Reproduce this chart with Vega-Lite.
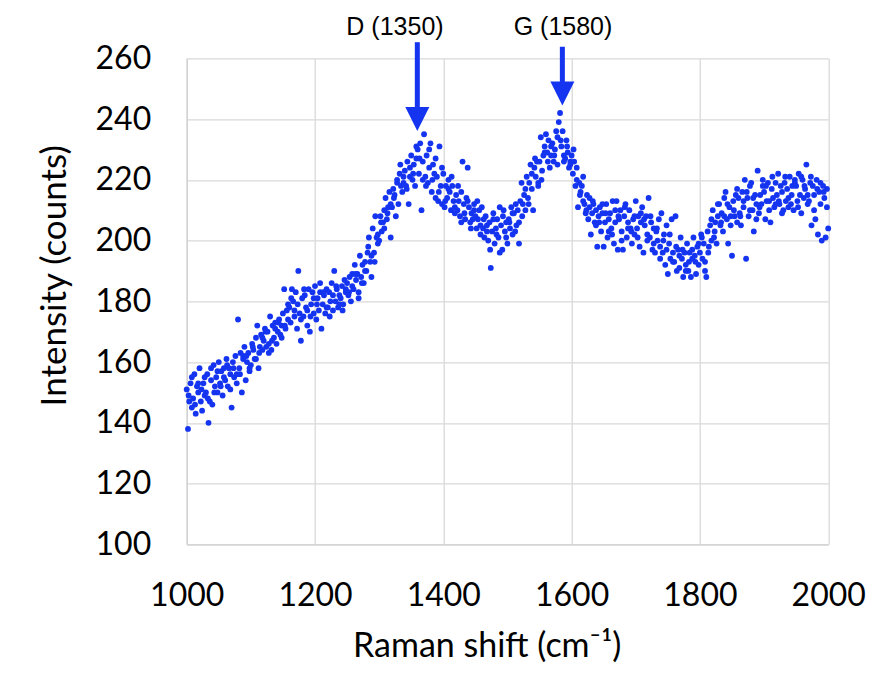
{
"$schema": "https://vega.github.io/schema/vega-lite/v6.json",
"width": 641.5,
"height": 486,
"autosize": {"type": "none"},
"padding": {"left": 186.7, "top": 58.3, "right": 61.8, "bottom": 148.7},
"background": "white",
"config": {"view": {"stroke": null}},
"datasets": {
"arrows": [
{"label": "D (1350)", "shift": 1359.5, "intensity": 265.3, "head": 240.0, "labelShift": 1324.7, "labelY": 267.7},
{"label": "G (1580)", "shift": 1585.6, "intensity": 263.8, "head": 248.4, "labelShift": 1586.6, "labelY": 267.7}
],
"spectrum": [
{"shift":1000,"intensity":151},{"shift":1002,"intensity":138},{"shift":1004,"intensity":147},{"shift":1006,"intensity":153},{"shift":1008,"intensity":145},
{"shift":1010,"intensity":148},{"shift":1012,"intensity":156},{"shift":1014,"intensity":143},{"shift":1016,"intensity":152},{"shift":1018,"intensity":150},
{"shift":1020,"intensity":158},{"shift":1022,"intensity":147},{"shift":1024,"intensity":144},{"shift":1026,"intensity":153},{"shift":1028,"intensity":149},
{"shift":1030,"intensity":150},{"shift":1032,"intensity":156},{"shift":1034,"intensity":140},{"shift":1036,"intensity":147},{"shift":1038,"intensity":154},
{"shift":1040,"intensity":146},{"shift":1042,"intensity":159},{"shift":1044,"intensity":152},{"shift":1046,"intensity":155},{"shift":1048,"intensity":150},
{"shift":1050,"intensity":160},{"shift":1052,"intensity":153},{"shift":1054,"intensity":157},{"shift":1056,"intensity":149},{"shift":1058,"intensity":155},
{"shift":1060,"intensity":154},{"shift":1062,"intensity":161},{"shift":1064,"intensity":152},{"shift":1066,"intensity":158},{"shift":1068,"intensity":156},
{"shift":1070,"intensity":145},{"shift":1072,"intensity":160},{"shift":1074,"intensity":155},{"shift":1076,"intensity":162},{"shift":1078,"intensity":153},
{"shift":1080,"intensity":174},{"shift":1082,"intensity":158},{"shift":1084,"intensity":163},{"shift":1086,"intensity":150},{"shift":1088,"intensity":161},
{"shift":1090,"intensity":165},{"shift":1092,"intensity":154},{"shift":1094,"intensity":160},{"shift":1096,"intensity":163},{"shift":1098,"intensity":158},
{"shift":1100,"intensity":159},{"shift":1102,"intensity":166},{"shift":1104,"intensity":164},{"shift":1106,"intensity":161},{"shift":1108,"intensity":168},
{"shift":1110,"intensity":172},{"shift":1112,"intensity":158},{"shift":1114,"intensity":165},{"shift":1116,"intensity":169},{"shift":1118,"intensity":164},
{"shift":1120,"intensity":167},{"shift":1122,"intensity":171},{"shift":1124,"intensity":165},{"shift":1126,"intensity":170},{"shift":1128,"intensity":163},
{"shift":1130,"intensity":175},{"shift":1132,"intensity":164},{"shift":1134,"intensity":172},{"shift":1136,"intensity":168},{"shift":1138,"intensity":173},
{"shift":1140,"intensity":166},{"shift":1142,"intensity":170},{"shift":1144,"intensity":174},{"shift":1146,"intensity":169},{"shift":1148,"intensity":172},
{"shift":1150,"intensity":176},{"shift":1152,"intensity":184},{"shift":1154,"intensity":171},{"shift":1156,"intensity":177},{"shift":1158,"intensity":174},
{"shift":1160,"intensity":178},{"shift":1162,"intensity":173},{"shift":1164,"intensity":184},{"shift":1166,"intensity":180},{"shift":1168,"intensity":175},
{"shift":1170,"intensity":183},{"shift":1172,"intensity":171},{"shift":1174,"intensity":190},{"shift":1176,"intensity":176},{"shift":1178,"intensity":167},
{"shift":1180,"intensity":181},{"shift":1182,"intensity":175},{"shift":1184,"intensity":182},{"shift":1186,"intensity":178},{"shift":1188,"intensity":172},
{"shift":1190,"intensity":184},{"shift":1192,"intensity":170},{"shift":1194,"intensity":179},{"shift":1196,"intensity":183},{"shift":1198,"intensity":176},
{"shift":1200,"intensity":185},{"shift":1202,"intensity":174},{"shift":1204,"intensity":181},{"shift":1206,"intensity":177},{"shift":1208,"intensity":183},
{"shift":1210,"intensity":171},{"shift":1212,"intensity":179},{"shift":1214,"intensity":182},{"shift":1216,"intensity":176},{"shift":1218,"intensity":184},
{"shift":1220,"intensity":178},{"shift":1222,"intensity":183},{"shift":1224,"intensity":180},{"shift":1226,"intensity":186},{"shift":1228,"intensity":177},
{"shift":1230,"intensity":190},{"shift":1232,"intensity":180},{"shift":1234,"intensity":184},{"shift":1236,"intensity":178},{"shift":1238,"intensity":182},
{"shift":1240,"intensity":181},{"shift":1242,"intensity":185},{"shift":1244,"intensity":179},{"shift":1246,"intensity":187},{"shift":1248,"intensity":183},
{"shift":1250,"intensity":186},{"shift":1252,"intensity":182},{"shift":1254,"intensity":188},{"shift":1256,"intensity":180},{"shift":1258,"intensity":185},
{"shift":1260,"intensity":184},{"shift":1262,"intensity":192},{"shift":1264,"intensity":187},{"shift":1266,"intensity":189},{"shift":1268,"intensity":183},
{"shift":1270,"intensity":195},{"shift":1272,"intensity":188},{"shift":1274,"intensity":192},{"shift":1276,"intensity":186},{"shift":1278,"intensity":190},
{"shift":1280,"intensity":190},{"shift":1282,"intensity":196},{"shift":1284,"intensity":201},{"shift":1286,"intensity":193},{"shift":1288,"intensity":188},
{"shift":1290,"intensity":204},{"shift":1292,"intensity":196},{"shift":1294,"intensity":208},{"shift":1296,"intensity":201},{"shift":1298,"intensity":199},
{"shift":1300,"intensity":200},{"shift":1302,"intensity":208},{"shift":1304,"intensity":203},{"shift":1306,"intensity":206},{"shift":1308,"intensity":210},
{"shift":1310,"intensity":214},{"shift":1312,"intensity":207},{"shift":1314,"intensity":211},{"shift":1316,"intensity":216},{"shift":1318,"intensity":201},
{"shift":1320,"intensity":211},{"shift":1322,"intensity":217},{"shift":1324,"intensity":215},{"shift":1326,"intensity":208},{"shift":1328,"intensity":219},
{"shift":1330,"intensity":212},{"shift":1332,"intensity":222},{"shift":1334,"intensity":218},{"shift":1336,"intensity":216},{"shift":1338,"intensity":221},
{"shift":1340,"intensity":223},{"shift":1342,"intensity":218},{"shift":1344,"intensity":226},{"shift":1346,"intensity":212},{"shift":1348,"intensity":221},
{"shift":1350,"intensity":228},{"shift":1352,"intensity":220},{"shift":1354,"intensity":225},{"shift":1356,"intensity":218},{"shift":1358,"intensity":227},
{"shift":1360,"intensity":230},{"shift":1362,"intensity":222},{"shift":1364,"intensity":232},{"shift":1366,"intensity":210},{"shift":1368,"intensity":226},
{"shift":1370,"intensity":235},{"shift":1372,"intensity":221},{"shift":1374,"intensity":228},{"shift":1376,"intensity":219},{"shift":1378,"intensity":224},
{"shift":1380,"intensity":232},{"shift":1382,"intensity":216},{"shift":1384,"intensity":225},{"shift":1386,"intensity":222},{"shift":1388,"intensity":214},
{"shift":1390,"intensity":221},{"shift":1392,"intensity":213},{"shift":1394,"intensity":231},{"shift":1396,"intensity":218},{"shift":1398,"intensity":212},
{"shift":1400,"intensity":222},{"shift":1402,"intensity":211},{"shift":1404,"intensity":218},{"shift":1406,"intensity":214},{"shift":1408,"intensity":220},
{"shift":1410,"intensity":216},{"shift":1412,"intensity":210},{"shift":1414,"intensity":218},{"shift":1416,"intensity":213},{"shift":1418,"intensity":209},
{"shift":1420,"intensity":215},{"shift":1422,"intensity":210},{"shift":1424,"intensity":213},{"shift":1426,"intensity":208},{"shift":1428,"intensity":216},
{"shift":1430,"intensity":226},{"shift":1432,"intensity":212},{"shift":1434,"intensity":207},{"shift":1436,"intensity":214},{"shift":1438,"intensity":224},
{"shift":1440,"intensity":211},{"shift":1442,"intensity":206},{"shift":1444,"intensity":209},{"shift":1446,"intensity":207},{"shift":1448,"intensity":212},
{"shift":1450,"intensity":208},{"shift":1452,"intensity":204},{"shift":1454,"intensity":207},{"shift":1456,"intensity":210},{"shift":1458,"intensity":202},
{"shift":1460,"intensity":211},{"shift":1462,"intensity":204},{"shift":1464,"intensity":201},{"shift":1466,"intensity":208},{"shift":1468,"intensity":205},
{"shift":1470,"intensity":200},{"shift":1472,"intensity":206},{"shift":1474,"intensity":191},{"shift":1476,"intensity":203},{"shift":1478,"intensity":209},
{"shift":1480,"intensity":199},{"shift":1482,"intensity":204},{"shift":1484,"intensity":207},{"shift":1486,"intensity":201},{"shift":1488,"intensity":211},
{"shift":1490,"intensity":205},{"shift":1492,"intensity":197},{"shift":1494,"intensity":210},{"shift":1496,"intensity":203},{"shift":1498,"intensity":206},
{"shift":1500,"intensity":199},{"shift":1502,"intensity":207},{"shift":1504,"intensity":204},{"shift":1506,"intensity":211},{"shift":1508,"intensity":202},
{"shift":1510,"intensity":209},{"shift":1512,"intensity":203},{"shift":1514,"intensity":205},{"shift":1516,"intensity":210},{"shift":1518,"intensity":199},
{"shift":1520,"intensity":213},{"shift":1522,"intensity":219},{"shift":1524,"intensity":212},{"shift":1526,"intensity":215},{"shift":1528,"intensity":210},
{"shift":1530,"intensity":221},{"shift":1532,"intensity":214},{"shift":1534,"intensity":219},{"shift":1536,"intensity":225},{"shift":1538,"intensity":217},
{"shift":1540,"intensity":210},{"shift":1542,"intensity":224},{"shift":1544,"intensity":221},{"shift":1546,"intensity":226},{"shift":1548,"intensity":218},
{"shift":1550,"intensity":226},{"shift":1552,"intensity":234},{"shift":1554,"intensity":223},{"shift":1556,"intensity":228},{"shift":1558,"intensity":231},
{"shift":1560,"intensity":235},{"shift":1562,"intensity":229},{"shift":1564,"intensity":233},{"shift":1566,"intensity":224},{"shift":1568,"intensity":228},
{"shift":1570,"intensity":232},{"shift":1572,"intensity":226},{"shift":1574,"intensity":230},{"shift":1576,"intensity":236},{"shift":1578,"intensity":225},
{"shift":1580,"intensity":239},{"shift":1582,"intensity":242},{"shift":1584,"intensity":231},{"shift":1586,"intensity":236},{"shift":1588,"intensity":228},
{"shift":1590,"intensity":227},{"shift":1592,"intensity":233},{"shift":1594,"intensity":229},{"shift":1596,"intensity":224},{"shift":1598,"intensity":226},
{"shift":1600,"intensity":228},{"shift":1602,"intensity":222},{"shift":1604,"intensity":226},{"shift":1606,"intensity":218},{"shift":1608,"intensity":224},
{"shift":1610,"intensity":211},{"shift":1612,"intensity":219},{"shift":1614,"intensity":216},{"shift":1616,"intensity":218},{"shift":1618,"intensity":213},
{"shift":1620,"intensity":212},{"shift":1622,"intensity":209},{"shift":1624,"intensity":215},{"shift":1626,"intensity":207},{"shift":1628,"intensity":211},
{"shift":1630,"intensity":202},{"shift":1632,"intensity":209},{"shift":1634,"intensity":212},{"shift":1636,"intensity":206},{"shift":1638,"intensity":210},
{"shift":1640,"intensity":198},{"shift":1642,"intensity":208},{"shift":1644,"intensity":211},{"shift":1646,"intensity":203},{"shift":1648,"intensity":209},
{"shift":1650,"intensity":198},{"shift":1652,"intensity":206},{"shift":1654,"intensity":212},{"shift":1656,"intensity":201},{"shift":1658,"intensity":207},
{"shift":1660,"intensity":209},{"shift":1662,"intensity":204},{"shift":1664,"intensity":213},{"shift":1666,"intensity":199},{"shift":1668,"intensity":206},
{"shift":1670,"intensity":213},{"shift":1672,"intensity":197},{"shift":1674,"intensity":207},{"shift":1676,"intensity":210},{"shift":1678,"intensity":203},
{"shift":1680,"intensity":197},{"shift":1682,"intensity":208},{"shift":1684,"intensity":212},{"shift":1686,"intensity":201},{"shift":1688,"intensity":206},
{"shift":1690,"intensity":210},{"shift":1692,"intensity":204},{"shift":1694,"intensity":199},{"shift":1696,"intensity":207},{"shift":1698,"intensity":202},
{"shift":1700,"intensity":213},{"shift":1702,"intensity":204},{"shift":1704,"intensity":208},{"shift":1706,"intensity":198},{"shift":1708,"intensity":206},
{"shift":1710,"intensity":211},{"shift":1712,"intensity":196},{"shift":1714,"intensity":205},{"shift":1716,"intensity":208},{"shift":1718,"intensity":202},
{"shift":1720,"intensity":214},{"shift":1722,"intensity":201},{"shift":1724,"intensity":206},{"shift":1726,"intensity":197},{"shift":1728,"intensity":204},
{"shift":1730,"intensity":196},{"shift":1732,"intensity":203},{"shift":1734,"intensity":200},{"shift":1736,"intensity":207},{"shift":1738,"intensity":198},
{"shift":1740,"intensity":209},{"shift":1742,"intensity":196},{"shift":1744,"intensity":202},{"shift":1746,"intensity":192},{"shift":1748,"intensity":197},
{"shift":1750,"intensity":189},{"shift":1752,"intensity":199},{"shift":1754,"intensity":194},{"shift":1756,"intensity":207},{"shift":1758,"intensity":196},
{"shift":1760,"intensity":193},{"shift":1762,"intensity":208},{"shift":1764,"intensity":190},{"shift":1766,"intensity":197},{"shift":1768,"intensity":195},
{"shift":1770,"intensity":201},{"shift":1772,"intensity":194},{"shift":1774,"intensity":188},{"shift":1776,"intensity":196},{"shift":1778,"intensity":192},
{"shift":1780,"intensity":199},{"shift":1782,"intensity":190},{"shift":1784,"intensity":196},{"shift":1786,"intensity":188},{"shift":1788,"intensity":194},
{"shift":1790,"intensity":201},{"shift":1792,"intensity":195},{"shift":1794,"intensity":189},{"shift":1796,"intensity":198},{"shift":1798,"intensity":192},
{"shift":1800,"intensity":196},{"shift":1802,"intensity":202},{"shift":1804,"intensity":194},{"shift":1806,"intensity":199},{"shift":1808,"intensity":190},
{"shift":1810,"intensity":188},{"shift":1812,"intensity":203},{"shift":1814,"intensity":198},{"shift":1816,"intensity":205},{"shift":1818,"intensity":200},
{"shift":1820,"intensity":210},{"shift":1822,"intensity":201},{"shift":1824,"intensity":206},{"shift":1826,"intensity":199},{"shift":1828,"intensity":208},
{"shift":1830,"intensity":212},{"shift":1832,"intensity":205},{"shift":1834,"intensity":209},{"shift":1836,"intensity":203},{"shift":1838,"intensity":208},
{"shift":1840,"intensity":216},{"shift":1842,"intensity":207},{"shift":1844,"intensity":199},{"shift":1846,"intensity":211},{"shift":1848,"intensity":208},
{"shift":1850,"intensity":195},{"shift":1852,"intensity":213},{"shift":1854,"intensity":208},{"shift":1856,"intensity":215},{"shift":1858,"intensity":206},
{"shift":1860,"intensity":214},{"shift":1862,"intensity":209},{"shift":1864,"intensity":205},{"shift":1866,"intensity":216},{"shift":1868,"intensity":211},
{"shift":1870,"intensity":220},{"shift":1872,"intensity":194},{"shift":1874,"intensity":214},{"shift":1876,"intensity":208},{"shift":1878,"intensity":218},
{"shift":1880,"intensity":219},{"shift":1882,"intensity":210},{"shift":1884,"intensity":203},{"shift":1886,"intensity":215},{"shift":1888,"intensity":212},
{"shift":1890,"intensity":223},{"shift":1892,"intensity":209},{"shift":1894,"intensity":215},{"shift":1896,"intensity":212},{"shift":1898,"intensity":218},
{"shift":1900,"intensity":216},{"shift":1902,"intensity":207},{"shift":1904,"intensity":213},{"shift":1906,"intensity":219},{"shift":1908,"intensity":210},
{"shift":1910,"intensity":206},{"shift":1912,"intensity":217},{"shift":1914,"intensity":214},{"shift":1916,"intensity":211},{"shift":1918,"intensity":219},
{"shift":1920,"intensity":215},{"shift":1922,"intensity":222},{"shift":1924,"intensity":212},{"shift":1926,"intensity":218},{"shift":1928,"intensity":209},
{"shift":1930,"intensity":210},{"shift":1932,"intensity":219},{"shift":1934,"intensity":213},{"shift":1936,"intensity":217},{"shift":1938,"intensity":211},
{"shift":1940,"intensity":221},{"shift":1942,"intensity":212},{"shift":1944,"intensity":218},{"shift":1946,"intensity":210},{"shift":1948,"intensity":220},
{"shift":1950,"intensity":218},{"shift":1952,"intensity":213},{"shift":1954,"intensity":222},{"shift":1956,"intensity":215},{"shift":1958,"intensity":209},
{"shift":1960,"intensity":220},{"shift":1962,"intensity":214},{"shift":1964,"intensity":217},{"shift":1966,"intensity":225},{"shift":1968,"intensity":212},
{"shift":1970,"intensity":213},{"shift":1972,"intensity":219},{"shift":1974,"intensity":205},{"shift":1976,"intensity":218},{"shift":1978,"intensity":215},
{"shift":1980,"intensity":207},{"shift":1982,"intensity":220},{"shift":1984,"intensity":202},{"shift":1986,"intensity":216},{"shift":1988,"intensity":212},
{"shift":1990,"intensity":200},{"shift":1992,"intensity":218},{"shift":1994,"intensity":214},{"shift":1996,"intensity":201},{"shift":1998,"intensity":217},
{"shift":2000,"intensity":204},
{"shift":1003,"intensity":149},{"shift":1008,"intensity":155},{"shift":1013,"intensity":146},{"shift":1018,"intensity":153},{"shift":1023,"intensity":151},{"shift":1028,"intensity":155},
{"shift":1033,"intensity":148},{"shift":1038,"intensity":158},{"shift":1043,"intensity":150},{"shift":1048,"intensity":157},{"shift":1053,"intensity":152},{"shift":1058,"intensity":158},
{"shift":1063,"intensity":159},{"shift":1068,"intensity":151},{"shift":1073,"intensity":158},{"shift":1078,"intensity":156},{"shift":1083,"intensity":156},{"shift":1088,"intensity":162},
{"shift":1093,"intensity":162},{"shift":1098,"intensity":157},{"shift":1103,"intensity":165},{"shift":1108,"intensity":161},{"shift":1113,"intensity":163},{"shift":1118,"intensity":168},
{"shift":1123,"intensity":170},{"shift":1128,"intensity":166},{"shift":1133,"intensity":167},{"shift":1138,"intensity":171},{"shift":1143,"intensity":173},{"shift":1148,"intensity":168},
{"shift":1153,"intensity":172},{"shift":1158,"intensity":179},{"shift":1163,"intensity":181},{"shift":1168,"intensity":177},{"shift":1173,"intensity":179},{"shift":1178,"intensity":174},
{"shift":1183,"intensity":184},{"shift":1188,"intensity":177},{"shift":1193,"intensity":175},{"shift":1198,"intensity":181},{"shift":1203,"intensity":179},{"shift":1208,"intensity":186},
{"shift":1213,"intensity":183},{"shift":1218,"intensity":178},{"shift":1223,"intensity":175},{"shift":1228,"intensity":182},{"shift":1233,"intensity":185},{"shift":1238,"intensity":179},
{"shift":1243,"intensity":177},{"shift":1248,"intensity":184},{"shift":1253,"intensity":183},{"shift":1258,"intensity":189},{"shift":1263,"intensity":189},{"shift":1268,"intensity":181},
{"shift":1273,"intensity":186},{"shift":1278,"intensity":193},{"shift":1283,"intensity":198},{"shift":1288,"intensity":195},{"shift":1293,"intensity":193},{"shift":1298,"intensity":202},
{"shift":1303,"intensity":206},{"shift":1308,"intensity":204},{"shift":1313,"intensity":209},{"shift":1318,"intensity":212},{"shift":1323,"intensity":214},{"shift":1328,"intensity":220},
{"shift":1333,"intensity":225},{"shift":1338,"intensity":219},{"shift":1343,"intensity":217},{"shift":1348,"intensity":224},{"shift":1353,"intensity":222},{"shift":1358,"intensity":231},
{"shift":1363,"intensity":227},{"shift":1368,"intensity":220},{"shift":1373,"intensity":218},{"shift":1378,"intensity":230},{"shift":1383,"intensity":220},{"shift":1388,"intensity":227},
{"shift":1393,"intensity":216},{"shift":1398,"intensity":224},{"shift":1403,"intensity":213},{"shift":1408,"intensity":217},{"shift":1413,"intensity":221},{"shift":1418,"intensity":211},
{"shift":1423,"intensity":218},{"shift":1428,"intensity":206},{"shift":1433,"intensity":209},{"shift":1438,"intensity":213},{"shift":1443,"intensity":204},{"shift":1448,"intensity":210},
{"shift":1453,"intensity":213},{"shift":1458,"intensity":205},{"shift":1463,"intensity":207},{"shift":1468,"intensity":203},{"shift":1473,"intensity":197},{"shift":1478,"intensity":207},
{"shift":1483,"intensity":202},{"shift":1488,"intensity":196},{"shift":1493,"intensity":208},{"shift":1498,"intensity":201},{"shift":1503,"intensity":206},{"shift":1508,"intensity":209},
{"shift":1513,"intensity":212},{"shift":1518,"intensity":206},{"shift":1523,"intensity":208},{"shift":1528,"intensity":217},{"shift":1533,"intensity":212},{"shift":1538,"intensity":222},
{"shift":1543,"intensity":227},{"shift":1548,"intensity":219},{"shift":1553,"intensity":220},{"shift":1558,"intensity":229},{"shift":1563,"intensity":226},{"shift":1568,"intensity":231},
{"shift":1573,"intensity":228},{"shift":1578,"intensity":234},{"shift":1583,"intensity":233},{"shift":1588,"intensity":226},{"shift":1593,"intensity":231},{"shift":1598,"intensity":225},
{"shift":1603,"intensity":230},{"shift":1608,"intensity":220},{"shift":1613,"intensity":215},{"shift":1618,"intensity":221},{"shift":1623,"intensity":210},{"shift":1628,"intensity":214},
{"shift":1633,"intensity":213},{"shift":1638,"intensity":205},{"shift":1643,"intensity":206},{"shift":1648,"intensity":212},{"shift":1653,"intensity":209},{"shift":1658,"intensity":203},
{"shift":1663,"intensity":202},{"shift":1668,"intensity":210},{"shift":1673,"intensity":208},{"shift":1678,"intensity":200},{"shift":1683,"intensity":211},{"shift":1688,"intensity":204},
{"shift":1693,"intensity":203},{"shift":1698,"intensity":208},{"shift":1703,"intensity":201},{"shift":1708,"intensity":209},{"shift":1713,"intensity":207},{"shift":1718,"intensity":200},
{"shift":1723,"intensity":208},{"shift":1728,"intensity":199},{"shift":1733,"intensity":204},{"shift":1738,"intensity":194},{"shift":1743,"intensity":200},{"shift":1748,"intensity":205},
{"shift":1753,"intensity":202},{"shift":1758,"intensity":193},{"shift":1763,"intensity":198},{"shift":1768,"intensity":191},{"shift":1773,"intensity":197},{"shift":1778,"intensity":190},
{"shift":1783,"intensity":193},{"shift":1788,"intensity":197},{"shift":1793,"intensity":193},{"shift":1798,"intensity":199},{"shift":1803,"intensity":201},{"shift":1808,"intensity":193},
{"shift":1813,"intensity":196},{"shift":1818,"intensity":207},{"shift":1823,"intensity":203},{"shift":1828,"intensity":212},{"shift":1833,"intensity":206},{"shift":1838,"intensity":214},
{"shift":1843,"intensity":212},{"shift":1848,"intensity":205},{"shift":1853,"intensity":210},{"shift":1858,"intensity":217},{"shift":1863,"intensity":208},{"shift":1868,"intensity":213},
{"shift":1873,"intensity":216},{"shift":1878,"intensity":210},{"shift":1883,"intensity":214},{"shift":1888,"intensity":207},{"shift":1893,"intensity":211},{"shift":1898,"intensity":220},
{"shift":1903,"intensity":218},{"shift":1908,"intensity":213},{"shift":1913,"intensity":221},{"shift":1918,"intensity":212},{"shift":1923,"intensity":213},{"shift":1928,"intensity":216},
{"shift":1933,"intensity":221},{"shift":1938,"intensity":214},{"shift":1943,"intensity":215},{"shift":1948,"intensity":219},{"shift":1953,"intensity":211},{"shift":1958,"intensity":221},
{"shift":1963,"intensity":218},{"shift":1968,"intensity":215},{"shift":1973,"intensity":221},{"shift":1978,"intensity":210},{"shift":1983,"intensity":217},{"shift":1988,"intensity":219},
{"shift":1993,"intensity":216},{"shift":1998,"intensity":211}
]
},
"encoding": {
"x": {"field": "shift", "type": "quantitative",
"scale": {"domain": [1000, 2000], "nice": false, "zero": false},
"axis": {"title": "Raman shift (cm⁻¹)", "values": [1000, 1200, 1400, 1600, 1800, 2000], "format": "d",
"grid": true, "gridColor": "#d9d9d9", "gridWidth": 1.3, "domainColor": "#d0d0d0", "domainWidth": 1.3,
"ticks": false, "tickSize": 0, "labelFont": "Lato", "labelFontSize": 32, "labelColor": "#000000",
"labelPadding": 36, "labelFlush": false, "labelOverlap": false,
"titleFont": "Lato", "titleFontSize": 34, "titleFontWeight": "normal", "titleColor": "#000000",
"titleX": 300, "titleY": 112, "titleBaseline": "alphabetic", "titleAlign": "center"}},
"y": {"field": "intensity", "type": "quantitative",
"scale": {"domain": [100, 260], "nice": false, "zero": false},
"axis": {"title": "Intensity (counts)", "values": [100, 120, 140, 160, 180, 200, 220, 240, 260], "format": "d",
"grid": true, "gridColor": "#d9d9d9", "gridWidth": 1.3, "domainColor": "#d0d0d0", "domainWidth": 1.3,
"ticks": false, "tickSize": 0, "labelFont": "Lato", "labelFontSize": 32, "labelColor": "#000000",
"labelPadding": 36, "labelFlush": false, "labelOverlap": false,
"titleFont": "Lato", "titleFontSize": 35, "titleFontWeight": "normal", "titleColor": "#000000",
"titleX": -121, "titleY": 217, "titleAngle": -90, "titleBaseline": "alphabetic", "titleAlign": "center"}}
},
"layer": [
{
"data": {"name": "spectrum"},
"mark": {"type": "point", "shape": "circle", "filled": true, "size": 34, "color": "#1434f0", "opacity": 1}
},
{
"data": {"name": "arrows"},
"mark": {"type": "rule", "color": "#1434f0", "strokeWidth": 5},
"encoding": {"y2": {"field": "head"}}
},
{
"data": {"name": "arrows"},
"mark": {"type": "point", "shape": "M-1,-1L1,-1L0,1Z", "filled": true, "size": 576, "color": "#1434f0", "opacity": 1},
"encoding": {"y": {"field": "head", "type": "quantitative"}}
},
{
"data": {"name": "arrows"},
"mark": {"type": "text", "font": "Liberation Sans", "fontSize": 25, "color": "#000000", "align": "center", "baseline": "alphabetic"},
"encoding": {
"x": {"field": "labelShift", "type": "quantitative"},
"y": {"field": "labelY", "type": "quantitative"},
"text": {"field": "label"}
}
}
]
}
